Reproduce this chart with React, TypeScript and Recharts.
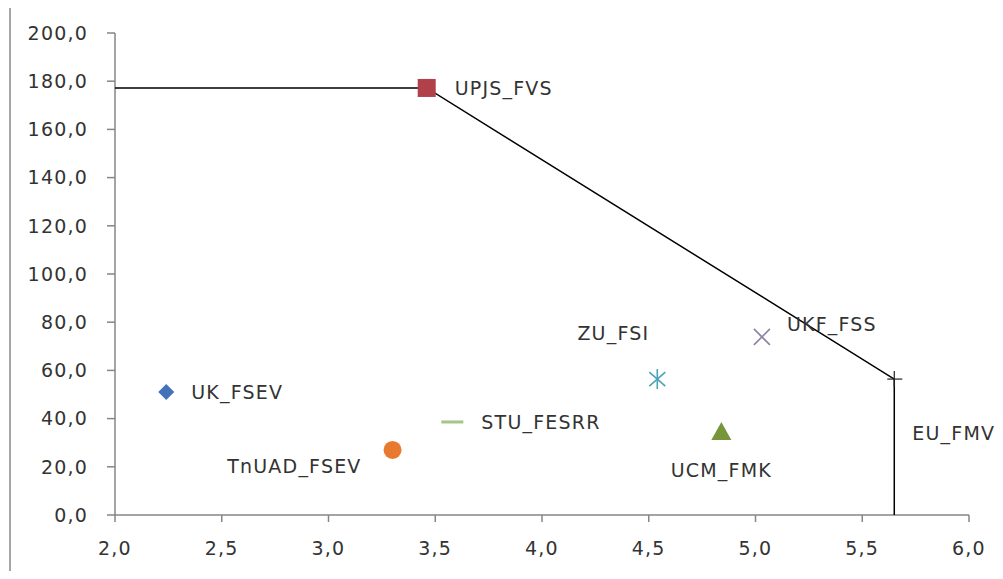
import React from 'react'
import { ScatterChart, Scatter, XAxis, YAxis } from 'recharts'

// faculties
const names = ['UK_FSEV', 'UPJS_FVS', 'TnUAD_FSEV', 'STU_FESRR', 'ZU_FSI', 'UKF_FSS', 'UCM_FMK', 'EU_FMV']
const xValues = [2.24, 3.46, 3.3, 3.58, 4.54, 5.03, 4.84, 5.65]
const yValues = [51, 177.2, 27, 38.6, 56.4, 73.9, 34.4, 56.4]

// efficiency frontier
const frontierX = [2.0, 3.46, 5.65, 5.65]
const frontierY = [177.2, 177.2, 56.4, 0]

const xTicks = [2, 2.5, 3, 3.5, 4, 4.5, 5, 5.5, 6]
const yTicks = [0, 20, 40, 60, 80, 100, 120, 140, 160, 180, 200]

const FONT = '"DejaVu Sans", sans-serif'
const TEXT = '#333'
const AXIS = '#868686'

type Marker = 'diamond' | 'square' | 'circle' | 'dash' | 'asterisk' | 'x' | 'triangle' | 'plus'
const look: Record<string, { marker: Marker; color: string; dx: number; dy: number; anchor: 'start' | 'middle' | 'end' }> = {
  UK_FSEV: { marker: 'diamond', color: '#4472B8', dx: 25, dy: 0, anchor: 'start' },
  UPJS_FVS: { marker: 'square', color: '#B0404A', dx: 28, dy: 0, anchor: 'start' },
  TnUAD_FSEV: { marker: 'circle', color: '#E8792F', dx: -31, dy: 16, anchor: 'end' },
  STU_FESRR: { marker: 'dash', color: '#A5C58A', dx: 29, dy: 0, anchor: 'start' },
  ZU_FSI: { marker: 'asterisk', color: '#4BA3B8', dx: -8, dy: -46, anchor: 'end' },
  UKF_FSS: { marker: 'x', color: '#8E82A8', dx: 25, dy: -13, anchor: 'start' },
  UCM_FMK: { marker: 'triangle', color: '#77963C', dx: 0, dy: 38, anchor: 'middle' },
  EU_FMV: { marker: 'plus', color: '#222', dx: 18, dy: 54, anchor: 'start' },
}

const fmt = (v: number) => v.toFixed(1).replace('.', ',')

const points = names.map((name, i) => ({ name, x: xValues[i], y: yValues[i] }))
const frontier = frontierX.map((x, i) => ({ x, y: frontierY[i] }))

function drawMarker(m: Marker, cx: number, cy: number, color: string) {
  switch (m) {
    case 'diamond':
      return <path d={`M${cx},${cy - 8}L${cx + 8},${cy}L${cx},${cy + 8}L${cx - 8},${cy}Z`} fill={color} />
    case 'square':
      return <rect x={cx - 9} y={cy - 9} width={18} height={18} fill={color} />
    case 'circle':
      return <circle cx={cx} cy={cy} r={9} fill={color} />
    case 'dash':
      return <rect x={cx - 11} y={cy - 1.5} width={22} height={3} fill={color} />
    case 'asterisk':
      return (
        <g stroke={color} strokeWidth={1.6}>
          <line x1={cx} y1={cy - 10} x2={cx} y2={cy + 10} />
          <line x1={cx - 8} y1={cy - 7} x2={cx + 8} y2={cy + 7} />
          <line x1={cx - 8} y1={cy + 7} x2={cx + 8} y2={cy - 7} />
        </g>
      )
    case 'x':
      return (
        <g stroke={color} strokeWidth={1.6}>
          <line x1={cx - 8} y1={cy - 8} x2={cx + 8} y2={cy + 8} />
          <line x1={cx - 8} y1={cy + 8} x2={cx + 8} y2={cy - 8} />
        </g>
      )
    case 'triangle':
      return <path d={`M${cx},${cy - 10}L${cx + 10},${cy + 8}L${cx - 10},${cy + 8}Z`} fill={color} />
    case 'plus':
      return (
        <g stroke={color} strokeWidth={1.2}>
          <line x1={cx - 7} y1={cy} x2={cx + 8} y2={cy} />
          <line x1={cx} y1={cy - 8} x2={cx} y2={cy + 8} />
        </g>
      )
  }
}

const PointShape = (props: any) => {
  const { cx, cy, payload } = props
  const s = look[payload.name]
  return (
    <g>
      {drawMarker(s.marker, cx, cy, s.color)}
      <text
        x={cx + s.dx}
        y={cy + s.dy}
        textAnchor={s.anchor}
        dominantBaseline="central"
        fontFamily={FONT}
        fontSize={19}
        letterSpacing={1.2}
        fill={TEXT}
      >
        {payload.name}
      </text>
    </g>
  )
}

export default function App() {
  return (
    <div style={{ position: 'relative', width: 1003, height: 579, margin: -8, overflow: 'hidden', background: '#fff' }}>
      <div
        style={{
          position: 'absolute', left: 9, top: 4, width: 1100, height: 700,
          border: '2px solid #A6A6A6', boxSizing: 'border-box',
        }}
      />
      <ScatterChart
        width={1003}
        height={579}
        margin={{ top: 33, right: 34, left: 55, bottom: 34 }}
        style={{ position: 'absolute', left: 0, top: 0, overflow: 'visible' }}
      >
        <XAxis
          type="number"
          dataKey="x"
          domain={[2, 6]}
          ticks={xTicks}
          tickFormatter={fmt}
          height={30}
          tickSize={7}
          tickMargin={20}
          axisLine={{ stroke: AXIS, strokeWidth: 1.5 }}
          tickLine={{ stroke: AXIS, strokeWidth: 1.5 }}
          tick={{ fontFamily: FONT, fontSize: 19, fill: TEXT, letterSpacing: 1.2 }}
        />
        <YAxis
          type="number"
          dataKey="y"
          domain={[0, 200]}
          ticks={yTicks}
          tickFormatter={fmt}
          width={60}
          tickSize={8}
          tickMargin={19}
          axisLine={{ stroke: AXIS, strokeWidth: 1.5 }}
          tickLine={{ stroke: AXIS, strokeWidth: 1.5 }}
          tick={{ fontFamily: FONT, fontSize: 19, fill: TEXT, letterSpacing: 1.2 }}
        />
        <Scatter
          data={frontier}
          line={{ stroke: '#000', strokeWidth: 1.5 }}
          shape={() => <g />}
          isAnimationActive={false}
        />
        <Scatter data={points} shape={PointShape} isAnimationActive={false} />
      </ScatterChart>
    </div>
  )
}
